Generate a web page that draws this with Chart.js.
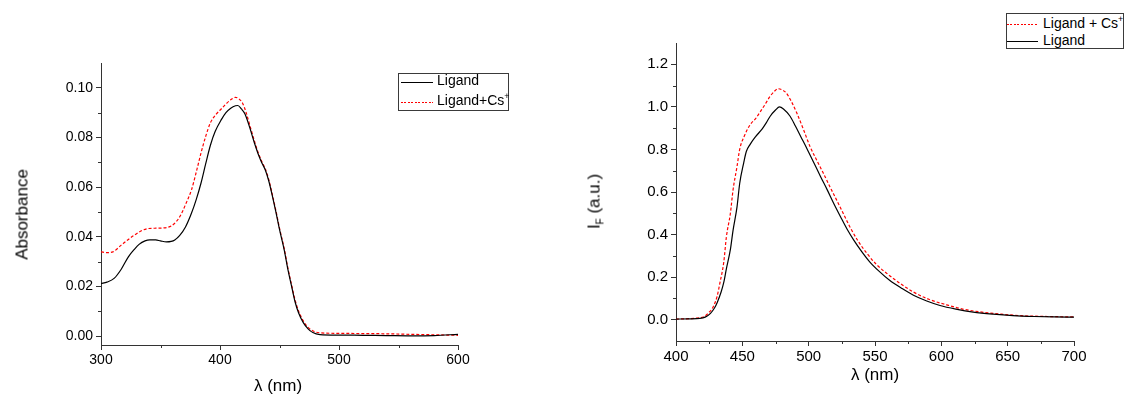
<!DOCTYPE html>
<html>
<head>
<meta charset="utf-8">
<script src="https://cdn.jsdelivr.net/npm/chart.js@4.4.1/dist/chart.umd.min.js"></script>
<style>
  html, body { margin: 0; padding: 0; background: #fff; overflow: hidden; }
  body { width: 1124px; height: 394px; position: relative; font-family: 'Liberation Sans', Arial, sans-serif; color: #000; }
  .box { position: absolute; top: 0; height: 394px; }
  .title { position: absolute; white-space: nowrap; line-height: 1; }
  .ytitle { width: 200px; text-align: center; transform: rotate(-90deg); }
  .legend { position: absolute; box-sizing: border-box; border: 1px solid #3a3a3a; background: #fff; }
  .sample { position: absolute; height: 1px; }
  .solid { background: #000; height: 1.3px; }
  .dash { background: repeating-linear-gradient(90deg, #ff0000 0 2px, transparent 2px 3.5px); height: 1.3px; }
  .ltext { position: absolute; font-size: 14px; line-height: 14px; white-space: nowrap; }
  .sup { font-size: 9px; position: relative; top: -6px; }
  .sub { font-size: 10px; position: relative; top: 4px; }
</style>
</head>
<body>
<div class="box" style="left:0; width:530px;"><canvas id="absChart"></canvas></div>
<div class="box" style="left:560px; width:564px;"><canvas id="fluoChart"></canvas></div>

<div class="title ytitle" style="font-size:17px; left:-78px; top:206px;">Absorbance</div>
<div class="title" style="font-size:17px; left:0; width:556px; text-align:center; top:377px;">λ (nm)</div>
<div class="title ytitle" style="font-size:17px; left:494px; top:193px;">I<span class="sub">F</span> (a.u.)</div>
<div class="title" style="font-size:17px; left:676px; width:398px; text-align:center; top:366px;">λ (nm)</div>

<div class="legend" style="left:398px; top:73px; width:111px; height:38px;"></div>
<div class="sample solid" style="left:401px; top:82px; width:32px;"></div>
<div class="ltext" style="left:437px; top:73px;">Ligand</div>
<div class="sample dash" style="left:401px; top:102px; width:32px;"></div>
<div class="ltext" style="left:437px; top:93px;">Ligand+Cs<span class="sup">+</span></div>

<div class="legend" style="left:1006px; top:13px; width:118px; height:36px;"></div>
<div class="sample dash" style="left:1007px; top:24px; width:31px;"></div>
<div class="ltext" style="left:1043px; top:16px;">Ligand + Cs<span class="sup">+</span></div>
<div class="sample solid" style="left:1007px; top:41px; width:31px;"></div>
<div class="ltext" style="left:1043px; top:33px;">Ligand</div>

<script>
// ---- absorption spectrum (left) ----
const absLigandNm = [300, 305, 311, 317, 323, 328, 332, 337, 341, 346, 350, 355, 359, 362, 366, 371, 376, 380, 384, 388,
  392, 396, 401, 405, 409, 413, 415, 418, 421, 425, 429, 432, 435, 438, 441, 444, 447, 450, 454, 457,
  460, 463, 466, 470, 474, 478, 484, 500, 520, 540, 560, 580, 600];
const absLigand = [0.0212, 0.0218, 0.0233, 0.0270, 0.0320, 0.0350, 0.0370, 0.0384, 0.0388, 0.0388, 0.0384, 0.0380, 0.0382, 0.0388, 0.0405, 0.0440, 0.0495, 0.0550, 0.0616, 0.0695,
  0.0770, 0.0825, 0.0871, 0.0900, 0.0918, 0.0928, 0.0929, 0.0915, 0.0895, 0.0840, 0.0777, 0.0735, 0.0700, 0.0670, 0.0625, 0.0565, 0.0500, 0.0430, 0.0347, 0.0270,
  0.0205, 0.0140, 0.0095, 0.0055, 0.0030, 0.0015, 0.0007, 0.0005, 0.0004, 0.0003, 0.0002, 0.0003, 0.0008];

const absCsNm = [300, 305, 310, 317, 323, 328, 334, 340, 346, 352, 359, 363, 367, 371, 376, 380, 384, 388, 392, 397,
  401, 405, 409, 413, 416, 419, 422, 425, 429, 432, 435, 438, 441, 444, 447, 450, 454, 457, 460, 463,
  466, 470, 474, 478, 484, 500, 520, 540, 560, 580, 600];
const absCs = [0.0340, 0.0337, 0.0340, 0.0367, 0.0390, 0.0407, 0.0425, 0.0434, 0.0435, 0.0436, 0.0444, 0.0460, 0.0488, 0.0530, 0.0589, 0.0660, 0.0737, 0.0805, 0.0860, 0.0895,
  0.0915, 0.0935, 0.0952, 0.0962, 0.0955, 0.0938, 0.0900, 0.0850, 0.0785, 0.0740, 0.0705, 0.0675, 0.0630, 0.0570, 0.0505, 0.0435, 0.0352, 0.0275, 0.0210, 0.0148,
  0.0102, 0.0062, 0.0036, 0.0022, 0.0014, 0.0012, 0.0011, 0.0010, 0.0008, 0.0006, 0.0004];

const absXTicks = [300, 400, 500, 600];
const absXMinor = [350, 450, 550];
const absYTicks = [0.00, 0.02, 0.04, 0.06, 0.08, 0.10];
const absYTickLabels = ['0.00', '0.02', '0.04', '0.06', '0.08', '0.10'];
const absYMinor = [0.01, 0.03, 0.05, 0.07, 0.09];

// ---- fluorescence spectrum (right) ----
const fluoLigandNm = [400, 410, 418, 422, 426, 429, 431, 434, 436, 438, 441, 443, 446, 448, 451, 453, 456, 460, 465, 468,
  471, 475, 478, 481, 486, 490, 494, 499, 504, 509, 514, 519, 524, 529, 534, 540, 546, 553, 561, 570,
  579, 589, 599, 611, 624, 639, 654, 670, 685, 700];
const fluoLigand = [0.003, 0.004, 0.006, 0.012, 0.030, 0.055, 0.080, 0.130, 0.175, 0.240, 0.330, 0.420, 0.530, 0.640, 0.736, 0.790, 0.825, 0.860, 0.897, 0.925,
  0.956, 0.985, 1.000, 0.990, 0.956, 0.910, 0.861, 0.800, 0.736, 0.672, 0.610, 0.545, 0.484, 0.425, 0.374, 0.320, 0.272, 0.228, 0.185, 0.148,
  0.115, 0.088, 0.067, 0.050, 0.036, 0.026, 0.019, 0.015, 0.013, 0.012];

const fluoCsNm = [400, 410, 416, 421, 425, 428, 431, 433, 436, 438, 441, 443, 446, 448, 452, 456, 460, 463, 467, 471,
  475, 477, 480, 483, 487, 491, 496, 501, 506, 511, 516, 521, 526, 531, 537, 544, 551, 559, 569, 579,
  591, 604, 616, 629, 645, 660, 680, 700];
const fluoCs = [0.003, 0.005, 0.008, 0.014, 0.035, 0.060, 0.110, 0.170, 0.270, 0.390, 0.500, 0.610, 0.720, 0.800, 0.870, 0.917, 0.945, 0.972, 1.010, 1.050,
  1.078, 1.085, 1.080, 1.066, 1.025, 0.972, 0.895, 0.814, 0.750, 0.689, 0.625, 0.563, 0.500, 0.437, 0.372, 0.311, 0.260, 0.217, 0.170, 0.130,
  0.095, 0.070, 0.050, 0.037, 0.026, 0.019, 0.015, 0.013];

const fluoXTicks = [400, 450, 500, 550, 600, 650, 700];
const fluoXMinor = [425, 475, 525, 575, 625, 675];
const fluoYTicks = [0.0, 0.2, 0.4, 0.6, 0.8, 1.0, 1.2];
const fluoYTickLabels = ['0.0', '0.2', '0.4', '0.6', '0.8', '1.0', '1.2'];
const fluoYMinor = [0.1, 0.3, 0.5, 0.7, 0.9, 1.1];

const axisColor = '#333';
Chart.defaults.font.family = "'Liberation Sans', Arial, sans-serif";
Chart.defaults.color = '#000';

const toPoints = (xs, ys) => xs.map((x, i) => ({ x, y: ys[i] }));

// short minor ticks, drawn through the chart's own scales
const minorTicks = {
  id: 'minorTicks',
  afterDraw(chart, args, opts) {
    const ctx = chart.ctx;
    const xs = chart.scales.x, ys = chart.scales.y;
    ctx.save();
    ctx.strokeStyle = axisColor;
    ctx.lineWidth = 1;
    ctx.beginPath();
    opts.x.forEach(v => {
      const px = Math.round(xs.getPixelForValue(v)) + 0.5;
      ctx.moveTo(px, xs.top);
      ctx.lineTo(px, xs.top + 3);
    });
    opts.y.forEach(v => {
      const py = Math.round(ys.getPixelForValue(v)) + 0.5;
      ctx.moveTo(ys.right, py);
      ctx.lineTo(ys.right - 3, py);
    });
    ctx.stroke();
    ctx.restore();
  }
};

const makeChart = (id, cfg) => new Chart(document.getElementById(id), {
  type: 'line',
  data: {
    datasets: [
      {
        label: 'Ligand',
        data: cfg.black,
        borderColor: '#000',
        borderWidth: 1.2,
        pointRadius: 0,
        cubicInterpolationMode: 'monotone'
      },
      {
        label: 'Ligand+Cs',
        data: cfg.red,
        borderColor: '#ff0000',
        borderWidth: 1.2,
        borderDash: [3, 2],
        pointRadius: 0,
        cubicInterpolationMode: 'monotone'
      }
    ]
  },
  options: {
    responsive: true,
    maintainAspectRatio: false,
    animation: false,
    layout: { padding: cfg.padding },
    plugins: {
      legend: { display: false },
      tooltip: { enabled: false },
      minorTicks: { x: cfg.xMinor, y: cfg.yMinor }
    },
    scales: {
      x: {
        type: 'linear',
        min: cfg.xMin,
        max: cfg.xMax,
        afterBuildTicks: s => { s.ticks = cfg.xTicks.map(v => ({ value: v })); },
        afterFit: s => { s.height = cfg.xHeight; },
        ticks: { font: { size: cfg.fontSize }, padding: 2, maxRotation: 0, callback: v => String(v) },
        grid: { drawOnChartArea: false, tickLength: 5, color: axisColor },
        border: { color: axisColor, width: 1 }
      },
      y: {
        min: cfg.yMin,
        max: cfg.yMax,
        afterBuildTicks: s => { s.ticks = cfg.yTicks.map(v => ({ value: v })); },
        afterFit: s => { s.width = cfg.yWidth; },
        ticks: { font: { size: cfg.fontSize }, padding: 3, callback: (v, i) => cfg.yLabels[i] },
        grid: { drawOnChartArea: false, tickLength: 5, color: axisColor },
        border: { color: axisColor, width: 1 }
      }
    }
  },
  plugins: [minorTicks]
});

makeChart('absChart', {
  black: toPoints(absLigandNm, absLigand),
  red: toPoints(absCsNm, absCs),
  padding: { top: 63, right: 72, left: 0, bottom: 0 },
  xMin: 300, xMax: 600, yMin: -0.0035, yMax: 0.11,
  xTicks: absXTicks, xMinor: absXMinor,
  yTicks: absYTicks, yLabels: absYTickLabels, yMinor: absYMinor,
  xHeight: 49, yWidth: 101, fontSize: 14
});

makeChart('fluoChart', {
  black: toPoints(fluoLigandNm, fluoLigand),
  red: toPoints(fluoCsNm, fluoCs),
  padding: { top: 43, right: 50, left: 0, bottom: 0 },
  xMin: 400, xMax: 700, yMin: -0.1, yMax: 1.3,
  xTicks: fluoXTicks, xMinor: fluoXMinor,
  yTicks: fluoYTicks, yLabels: fluoYTickLabels, yMinor: fluoYMinor,
  xHeight: 53, yWidth: 116, fontSize: 15
});
</script>
</body>
</html>
